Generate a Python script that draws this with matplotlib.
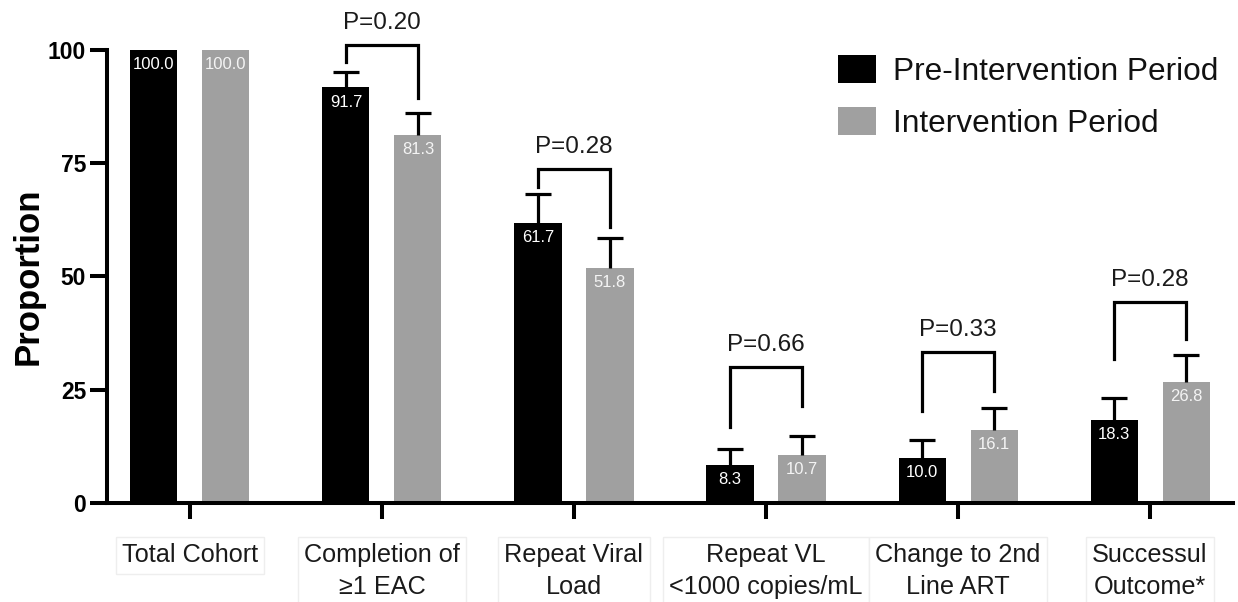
import numpy as np
import matplotlib
matplotlib.use("Agg")
import matplotlib.pyplot as plt

plt.rcParams['font.family'] = ['Liberation Sans', 'DejaVu Sans']

categories = ["Total Cohort", "Completion of\n\u22651 EAC", "Repeat Viral\nLoad",
              "Repeat VL\n<1000 copies/mL", "Change to 2nd\nLine ART", "Successul\nOutcome*"]
pre_vals = [100.0, 91.7, 61.7, 8.3, 10.0, 18.3]
int_vals = [100.0, 81.3, 51.8, 10.7, 16.1, 26.8]
pre_upper = [np.nan, 95.2, 68.1, 11.9, 13.9, 23.1]
int_upper = [np.nan, 86.1, 58.4, 14.8, 20.9, 32.6]
series_labels = ["Pre-Intervention Period", "Intervention Period"]
p_labels = [None, "P=0.20", "P=0.28", "P=0.66", "P=0.33", "P=0.28"]
bracket_top = [None, 101.1, 73.6, 30.0, 33.3, 44.3]
bracket_left_bottom = [None, 97.4, 69.8, 16.7, 20.3, 31.7]
bracket_right_bottom = [None, 89.4, 60.8, 21.4, 24.7, 36.3]
yticks = [0, 25, 50, 75, 100]

W, H = 1238, 602
fig = plt.figure(figsize=(W / 100, H / 100), dpi=100)
ax = fig.add_axes([107 / W, (H - 503) / H, (1233 - 107) / W, 503 / H])

x = np.arange(len(categories))
bw = 0.245
off = 0.1875
black = "#000000"
gray = "#A0A0A0"

ax.bar(x - off, pre_vals, bw, color=black, label=series_labels[0], zorder=2)
ax.bar(x + off, int_vals, bw, color=gray, label=series_labels[1], zorder=2)

pre_err = np.array(pre_upper) - np.array(pre_vals)
int_err = np.array(int_upper) - np.array(int_vals)
ekw = dict(fmt='none', ecolor='black', elinewidth=2.3, capsize=9.5, capthick=2.3, zorder=3)
for xs, vals, err in [(x - off, pre_vals, pre_err), (x + off, int_vals, int_err)]:
    cont = ax.errorbar(xs, vals, yerr=[np.zeros(len(x)), err], **ekw)
    caps = cont[1]
    if len(caps) == 2:
        caps[0].remove()  # drop lower caps (one-sided error bars)

for i in range(len(x)):
    ax.annotate(f"{pre_vals[i]:.1f}", (x[i] - off, pre_vals[i]), xytext=(0, -10.5),
                textcoords='offset points', ha='center', va='center', color='white', fontsize=12, zorder=4)
    ax.annotate(f"{int_vals[i]:.1f}", (x[i] + off, int_vals[i]), xytext=(0, -10.5),
                textcoords='offset points', ha='center', va='center', color='#f4f4f4', fontsize=12, zorder=4)

for i in range(len(x)):
    if p_labels[i] is None:
        continue
    xl, xr = x[i] - off, x[i] + off
    ax.plot([xl, xl, xr, xr], [bracket_left_bottom[i], bracket_top[i], bracket_top[i], bracket_right_bottom[i]],
            color='black', lw=2.3, solid_joinstyle='miter', clip_on=False, zorder=3)
    ax.annotate(p_labels[i], ((xl + xr) / 2, bracket_top[i]), xytext=(0, 8), textcoords='offset points',
                ha='center', va='bottom', fontsize=17.5, color='#1a1a1a', annotation_clip=False)

ax.set_xlim(-0.432, len(x) - 1 + 0.432)
ax.set_ylim(0, 111)
ax.set_yticks(yticks)
ax.set_yticklabels([str(t) for t in yticks], fontsize=16.5, fontweight='bold')
ax.set_xticks(x)
ax.set_xticklabels(categories, fontsize=18.2, color='#1a1a1a', linespacing=1.42)
for lab in ax.get_xticklabels():
    lab.set_bbox(dict(boxstyle='square,pad=0.25', facecolor='white', edgecolor='#eeeeee', lw=1))

for s in ['top', 'right']:
    ax.spines[s].set_visible(False)
ax.spines['left'].set_bounds(0, 100)
ax.spines['left'].set_linewidth(2.9)
ax.spines['bottom'].set_linewidth(2.9)
ax.tick_params(axis='y', length=12, width=2.9, pad=3)
ax.tick_params(axis='x', length=11.5, width=2.9, pad=17.5)

ax.set_ylabel("Proportion", fontsize=25, fontweight='bold')
ax.yaxis.set_label_coords(-(107 - 45) / (1233 - 107), (503 - 276) / 503)

leg = ax.legend(loc='upper left', bbox_to_anchor=(838 / W, 1 - 55 / H), bbox_transform=fig.transFigure,
                frameon=False, fontsize=22.8, handlelength=1.2, handleheight=1.0, handletextpad=0.55,
                labelspacing=0.62, borderpad=0, borderaxespad=0)
for t in leg.get_texts():
    t.set_color('#111111')

fig.savefig("out.png", dpi=100)
